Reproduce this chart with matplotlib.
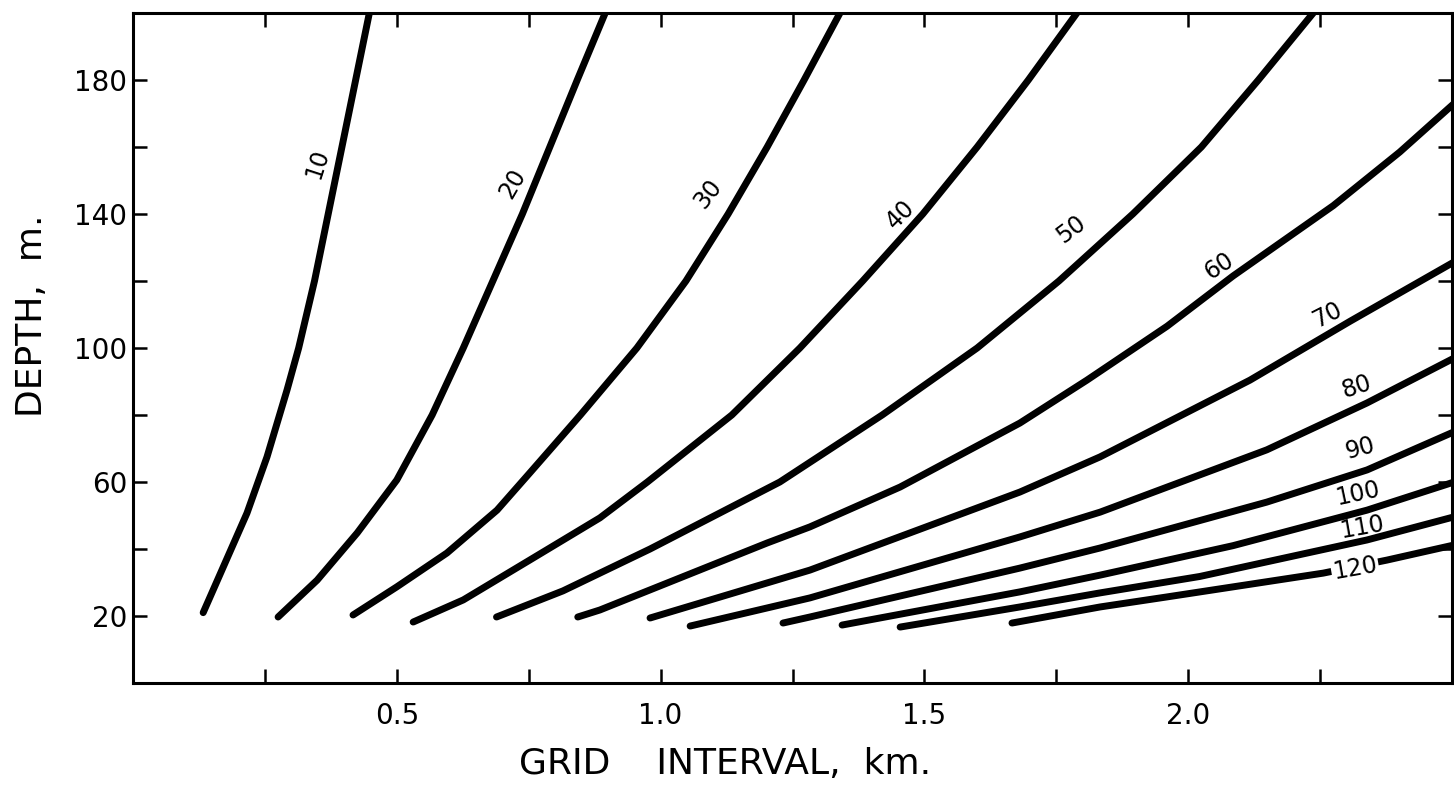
import matplotlib
matplotlib.use("Agg")
import matplotlib.pyplot as plt

plt.rcParams["font.family"] = ["DejaVu Sans"]

# curve values: (grid interval km, depth m)
levels = [10, 20, 30, 40, 50, 60, 70, 80, 90, 100, 110, 120]

x10 = [0.133, 0.171, 0.216, 0.254, 0.292, 0.314, 0.344, 0.370, 0.396, 0.422, 0.448]
y10 = [21.0, 34.6, 50.7, 67.5, 87.5, 100.0, 120.0, 140.0, 160.0, 180.0, 200.0]

x20 = [0.275, 0.349, 0.425, 0.500, 0.567, 0.626, 0.682, 0.738, 0.790, 0.842, 0.895]
y20 = [19.7, 30.7, 44.8, 60.6, 80.0, 100.0, 120.0, 140.0, 160.0, 180.0, 200.0]

x30 = [0.417, 0.500, 0.595, 0.690, 0.752, 0.848, 0.955, 1.048, 1.128, 1.202, 1.272, 1.340]
y30 = [20.3, 28.7, 38.8, 51.6, 62.7, 80.0, 100.0, 120.0, 140.0, 160.0, 180.0, 200.0]

x40 = [0.531, 0.626, 0.752, 0.885, 0.975, 1.135, 1.264, 1.383, 1.497, 1.600, 1.697, 1.789]
y40 = [18.2, 24.8, 36.7, 49.3, 60.0, 80.0, 100.0, 120.0, 140.0, 160.0, 180.0, 200.0]

x50 = [0.689, 0.815, 0.980, 1.226, 1.420, 1.600, 1.755, 1.895, 2.025, 2.133, 2.237]
y50 = [19.7, 27.5, 40.0, 60.0, 80.0, 100.0, 120.0, 140.0, 160.0, 180.0, 200.0]

x60 = [0.843, 0.885, 1.202, 1.283, 1.454, 1.681, 1.808, 1.960, 2.085, 2.275, 2.401, 2.504]
y60 = [19.7, 21.8, 41.8, 46.6, 58.5, 77.6, 90.4, 106.5, 121.5, 142.5, 158.5, 173.0]

x70 = [0.980, 1.283, 1.681, 1.833, 2.117, 2.307, 2.504]
y70 = [19.4, 33.7, 57.0, 67.5, 90.4, 108.0, 125.7]

x80 = [1.056, 1.283, 1.681, 1.833, 2.149, 2.339, 2.504]
y80 = [17.0, 25.4, 43.6, 51.0, 69.6, 83.6, 97.0]

x90 = [1.232, 1.283, 1.681, 1.833, 2.149, 2.339, 2.504]
y90 = [17.9, 19.7, 34.3, 40.3, 54.0, 63.6, 75.0]

x100 = [1.344, 1.681, 1.833, 2.085, 2.339, 2.504]
y100 = [17.3, 27.2, 32.2, 41.0, 51.6, 60.0]

x110 = [1.454, 1.681, 1.833, 2.022, 2.339, 2.504]
y110 = [16.7, 22.7, 26.9, 31.8, 42.7, 49.6]

x120 = [1.666, 1.833, 1.960, 2.256, 2.377, 2.504]
y120 = [17.9, 22.7, 25.7, 32.8, 36.7, 41.2]

curves_x = [x10, x20, x30, x40, x50, x60, x70, x80, x90, x100, x110, x120]
curves_y = [y10, y20, y30, y40, y50, y60, y70, y80, y90, y100, y110, y120]

# label spots and angles (screen degrees)
label_x = [0.350, 0.720, 1.090, 1.455, 1.778, 2.058, 2.263, 2.320, 2.326, 2.322, 2.329, 2.316]
label_y = [155, 149, 146, 140, 135.5, 124.5, 110, 88.5, 70, 56.5, 46.5, 34.3]
label_rot = [72, 60, 52, 45, 37, 33, 27, 18, 15, 12, 10, 10]

xticks_major = [0.5, 1.0, 1.5, 2.0]
xticks_minor = [0.25, 0.75, 1.25, 1.75, 2.25]
yticks_major = [20, 60, 100, 140, 180]
yticks_minor = [40, 80, 120, 160]

fig = plt.figure(figsize=(14.54, 7.93), dpi=100)
ax = fig.add_axes([133 / 1454, 110 / 793, 1319 / 1454, 670 / 793])

for xs, ys in zip(curves_x, curves_y):
    ax.plot(xs, ys, color="black", linewidth=5, solid_capstyle="round")

for i, lev in enumerate(levels):
    box = None
    if lev == 120:
        box = dict(facecolor="white", edgecolor="none", pad=1)
    ax.text(label_x[i], label_y[i], str(lev), fontsize=17, rotation=label_rot[i],
            rotation_mode="anchor", ha="center", va="center", bbox=box)

ax.set_xlim(0, 2.5)
ax.set_ylim(0, 200)

ax.set_xticks(xticks_major)
ax.set_xticklabels(["0.5", "1.0", "1.5", "2.0"])
ax.set_xticks(xticks_minor, minor=True)
ax.set_yticks(yticks_major)
ax.set_yticks(yticks_minor, minor=True)

ax.tick_params(which="both", direction="in", length=10, width=1.8,
               top=True, right=True, labelsize=20)
ax.tick_params(axis="x", which="major", pad=14)
ax.tick_params(axis="y", which="major", pad=4)

for sp in ax.spines.values():
    sp.set_linewidth(2.2)

ax.set_xlabel("GRID    INTERVAL,  km.", fontsize=26)
ax.xaxis.set_label_coords(0.449, -0.095)
ax.set_ylabel("DEPTH,  m.", fontsize=26)
ax.yaxis.set_label_coords(-0.064, 0.548)

fig.savefig("out.png", dpi=100)
